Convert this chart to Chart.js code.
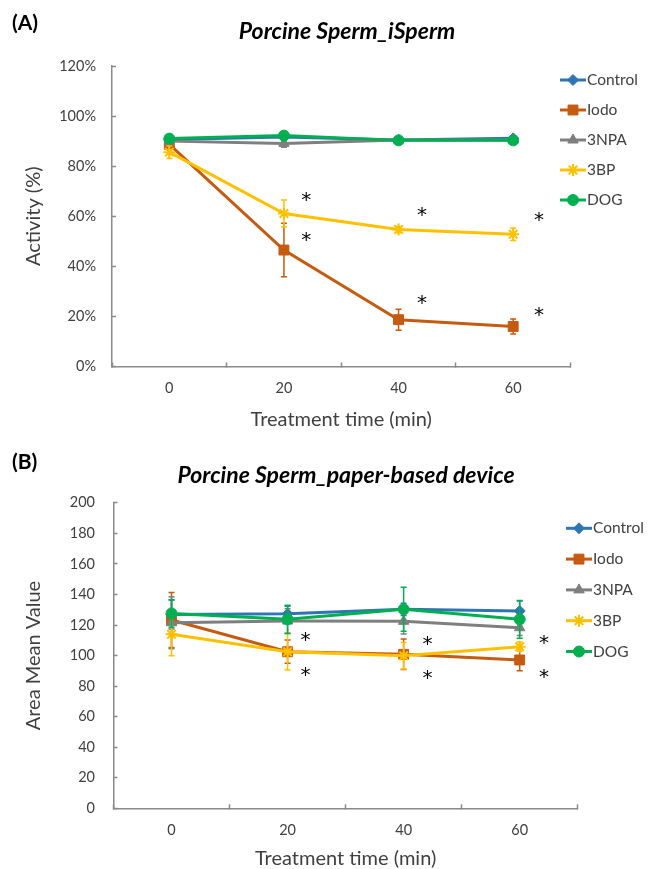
<!DOCTYPE html>
<html>
<head>
<meta charset="utf-8">
<script src="https://cdn.jsdelivr.net/npm/chart.js@4.4.0/dist/chart.umd.min.js"></script>
<style>
  body { margin: 0; background: #fff; }
  #page { position: relative; width: 649px; height: 869px; font-family: Lato, sans-serif; color: #000; }
  canvas { position: absolute; left: 0; }
  .panel { position: absolute; font-weight: bold; font-size: 21px; line-height: 1; }
  .title { position: absolute; font-weight: bold; font-style: italic; font-size: 23px; line-height: 1; white-space: nowrap; transform: translateX(-50%); }
</style>
</head>
<body>
<div id="page">
  <canvas id="chartA" width="649" height="435" style="top:0"></canvas>
  <canvas id="chartB" width="649" height="434" style="top:435px"></canvas>
  <div class="panel" style="left:12px;top:11px">(A)</div>
  <div class="title" style="left:347px;top:19px">Porcine Sperm_iSperm</div>
  <div class="panel" style="left:12px;top:450px">(B)</div>
  <div class="title" style="left:346px;top:463px">Porcine Sperm_paper-based device</div>
</div>
<script>
  // treatment times (min)
  let times = [0, 20, 40, 60];
  let seriesNames = ["Control", "Iodo", "3NPA", "3BP", "DOG"];
  let seriesColors = ["#2E75B6", "#C55A11", "#7F7F7F", "#FFC000", "#00B050"];
  let seriesMarkers = ["rectRot", "rect", "triangle", "star", "circle"];
  let markerSizes = [5.5, 7, 6, 6, 5.5];

  // (A) iSperm activity (%)
  let controlA = [90.6, 91.6, 90.4, 91.1];
  let iodoA = [88.7, 46.5, 18.7, 16.0];
  let npaA = [90.0, 89.1, 90.4, 90.4];
  let bpA = [85.6, 61.1, 54.7, 52.8];
  let dogA = [91.0, 92.2, 90.3, 90.3];
  let controlErrA = [1.0, 1.0, 0.8, 0.8];
  let iodoErrA = [2.0, 10.7, 4.2, 3.0];
  let npaErrA = [1.0, 1.5, 0.8, 0.8];
  let bpErrA = [2.5, 5.4, 1.2, 2.5];
  let dogErrA = [1.0, 1.0, 0.8, 0.8];
  let starXA = [23.9, 23.9, 44.1, 44.1, 64.5, 64.5];
  let starYA = [68.0, 52.0, 62.0, 26.7, 59.8, 21.8];
  let yTicksA = [0, 20, 40, 60, 80, 100, 120];

  // (B) paper-based device, area mean value
  let controlB = [126.8, 127.3, 130.3, 129.2];
  let iodoB = [123.3, 102.5, 100.8, 97.1];
  let npaB = [121.5, 122.6, 122.4, 118.2];
  let bpB = [113.9, 102.5, 99.9, 105.8];
  let dogB = [127.6, 123.7, 130.3, 123.7];
  let controlErrB = [9.5, 5.0, 4.0, 6.5];
  let iodoErrB = [18.0, 7.6, 10.0, 7.0];
  let npaErrB = [17.0, 8.0, 8.3, 5.0];
  let bpErrB = [14.0, 12.0, 8.7, 3.0];
  let dogErrB = [9.0, 9.3, 14.4, 12.3];
  let starXB = [23.1, 23.1, 44.1, 44.1, 64.2, 64.2];
  let starYB = [112.3, 89.4, 109.7, 87.3, 110.8, 88.4];
  let yTicksB = [0, 20, 40, 60, 80, 100, 120, 140, 160, 180, 200];

  let axisColor = "#8a8a8a";
  let textColor = "#404040";

  // category borders halfway between the time points
  let xBounds = times.map(function (t) { return t - 10; }).concat(times[times.length - 1] + 10);
  let xTickValues = times.concat(xBounds).sort(function (a, b) { return a - b; });

  function makeChart(id, opts) {
    let datasets = opts.values.map(function (vals, i) {
      return {
        label: seriesNames[i],
        data: times.map(function (t, k) { return { x: t, y: vals[k] }; }),
        errors: opts.errors[i],
        borderColor: seriesColors[i],
        backgroundColor: seriesColors[i],
        borderWidth: 3,
        pointStyle: seriesMarkers[i],
        pointRadius: markerSizes[i],
        pointHoverRadius: markerSizes[i],
        pointBorderWidth: seriesMarkers[i] == "star" ? 2 : 1,
        pointBackgroundColor: seriesColors[i],
        pointBorderColor: seriesColors[i],
        tension: 0,
        order: -i
      };
    });

    let errorBars = {
      id: "errorBars",
      afterDatasetDraw: function (chart, args) {
        let ds = chart.data.datasets[args.index];
        let ctx = chart.ctx;
        let xs = chart.scales.x, ys = chart.scales.y;
        ctx.save();
        ctx.strokeStyle = ds.borderColor;
        ctx.lineWidth = 1.5;
        ds.data.forEach(function (p, k) {
          let x = xs.getPixelForValue(p.x);
          let top = ys.getPixelForValue(p.y + ds.errors[k]);
          let bottom = ys.getPixelForValue(p.y - ds.errors[k]);
          ctx.beginPath();
          ctx.moveTo(x, top); ctx.lineTo(x, bottom);
          ctx.moveTo(x - 3, top); ctx.lineTo(x + 3, top);
          ctx.moveTo(x - 3, bottom); ctx.lineTo(x + 3, bottom);
          ctx.stroke();
        });
        ctx.restore();
      }
    };

    // significance marks
    let stars = {
      id: "stars",
      afterDatasetsDraw: function (chart) {
        let ctx = chart.ctx;
        ctx.save();
        ctx.fillStyle = "#000";
        ctx.font = "20px 'DejaVu Sans'";
        ctx.textAlign = "center";
        ctx.textBaseline = "alphabetic";
        let m = ctx.measureText("*");
        let shift = (m.actualBoundingBoxAscent - m.actualBoundingBoxDescent) / 2;
        opts.starX.forEach(function (sx, k) {
          let x = chart.scales.x.getPixelForValue(sx);
          let y = chart.scales.y.getPixelForValue(opts.starY[k]);
          ctx.fillText("*", x, y + shift);
        });
        ctx.restore();
      }
    };

    // legend: line with marker, then the name
    let legend = {
      id: "sideLegend",
      afterDraw: function (chart) {
        let ctx = chart.ctx;
        ctx.save();
        seriesNames.forEach(function (name, i) {
          let y = opts.legendY + i * opts.legendStep;
          let x0 = opts.legendX;
          ctx.strokeStyle = seriesColors[i];
          ctx.fillStyle = seriesColors[i];
          ctx.lineWidth = 3;
          ctx.beginPath();
          ctx.moveTo(x0, y);
          ctx.lineTo(x0 + 26, y);
          ctx.stroke();
          ctx.lineWidth = seriesMarkers[i] == "star" ? 2 : 1;
          Chart.helpers.drawPoint(ctx, { pointStyle: seriesMarkers[i], radius: markerSizes[i], rotation: 0, borderWidth: ctx.lineWidth }, x0 + 13, y);
          ctx.fillStyle = textColor;
          ctx.font = "15.5px Lato";
          ctx.textAlign = "left";
          ctx.textBaseline = "middle";
          ctx.fillText(name, x0 + 27, y);
        });
        ctx.restore();
      }
    };

    return new Chart(document.getElementById(id), {
      type: "line",
      data: { datasets: datasets },
      options: {
        responsive: false,
        animation: false,
        devicePixelRatio: 1,
        layout: { padding: { left: 0, top: opts.top, right: opts.right, bottom: 0 } },
        plugins: {
          legend: { display: false },
          tooltip: { enabled: false }
        },
        scales: {
          x: {
            type: "linear",
            min: xBounds[0],
            max: xBounds[xBounds.length - 1],
            afterBuildTicks: function (scale) {
              scale.ticks = xTickValues.map(function (v) { return { value: v }; });
            },
            afterFit: function (scale) { scale.height = opts.xAxisHeight; },
            ticks: {
              autoSkip: false,
              maxRotation: 0,
              padding: 17,
              color: textColor,
              font: { family: "Lato", size: 14.5 },
              callback: function (v) { return times.indexOf(v) >= 0 ? String(v) : ""; }
            },
            grid: {
              drawOnChartArea: false,
              drawTicks: true,
              tickLength: -4,
              tickWidth: 1.5,
              tickColor: function (c) { return xBounds.indexOf(c.tick.value) >= 0 ? axisColor : "rgba(0,0,0,0)"; }
            },
            border: { color: axisColor, width: 1.5 },
            title: {
              display: true,
              text: "Treatment time (min)",
              color: textColor,
              font: { family: "Lato", size: 20 },
              padding: { top: 0, bottom: opts.xTitlePad }
            }
          },
          y: {
            min: 0,
            max: opts.yTicks[opts.yTicks.length - 1],
            afterBuildTicks: function (scale) {
              scale.ticks = opts.yTicks.map(function (v) { return { value: v }; });
            },
            afterFit: function (scale) { scale.width = opts.yAxisWidth; },
            ticks: {
              padding: opts.yTickPad,
              color: textColor,
              font: { family: "Lato", size: 14.5 },
              callback: opts.yFormat
            },
            grid: {
              drawOnChartArea: false,
              drawTicks: true,
              tickLength: -4,
              tickWidth: 1.5,
              tickColor: axisColor
            },
            border: { color: axisColor, width: 1.5 },
            title: {
              display: true,
              text: opts.yTitle,
              color: textColor,
              font: { family: "Lato", size: 20 },
              padding: { top: opts.yTitlePad, bottom: 0 }
            }
          }
        }
      },
      plugins: [errorBars, stars, legend]
    });
  }

  makeChart("chartA", {
    values: [controlA, iodoA, npaA, bpA, dogA],
    errors: [controlErrA, iodoErrA, npaErrA, bpErrA, dogErrA],
    starX: starXA, starY: starYA,
    yTicks: yTicksA,
    yFormat: function (v) { return v + "%"; },
    yTitle: "Activity (%)",
    top: 66, right: 78.5,
    yAxisWidth: 112, xAxisHeight: 68.5,
    yTickPad: 20, yTitlePad: 22, xTitlePad: 3,
    legendX: 560, legendY: 80, legendStep: 30
  });

  makeChart("chartB", {
    values: [controlB, iodoB, npaB, bpB, dogB],
    errors: [controlErrB, iodoErrB, npaErrB, bpErrB, dogErrB],
    starX: starXB, starY: starYB,
    yTicks: yTicksB,
    yFormat: function (v) { return String(v); },
    yTitle: "Area Mean Value",
    top: 67.8, right: 71.3,
    yAxisWidth: 113.5, xAxisHeight: 60.7,
    yTickPad: 22.5, yTitlePad: 21.5, xTitlePad: -2,
    legendX: 566, legendY: 93.3, legendStep: 30.8
  });
</script>
</body>
</html>
